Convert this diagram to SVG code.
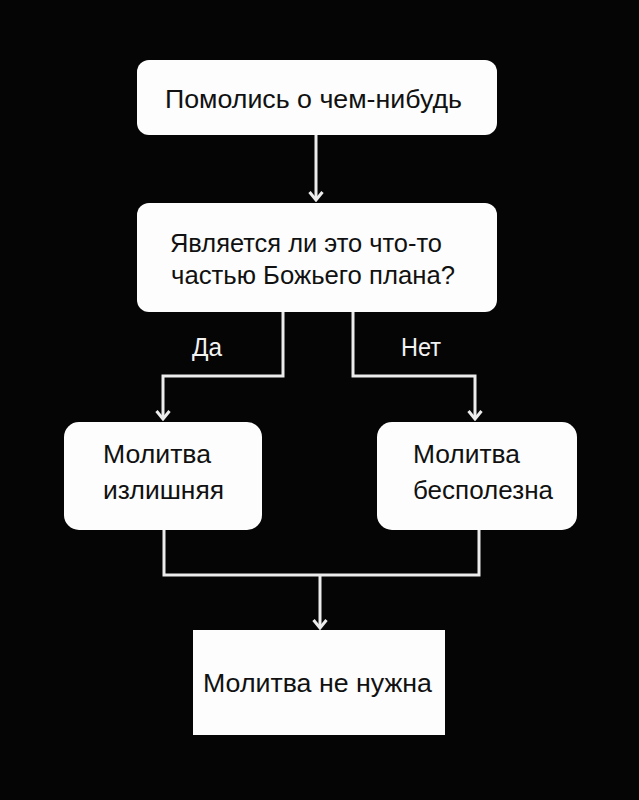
<svg xmlns="http://www.w3.org/2000/svg" width="639" height="800" viewBox="0 0 639 800">
<defs>
<style>
.box{fill:#fdfdfd;}
.t{font-family:"Liberation Sans","DejaVu Sans",sans-serif;font-size:25px;fill:#111;}
.lbl{font-family:"Liberation Sans","DejaVu Sans",sans-serif;font-size:25px;fill:#f2f2f2;}
.c{fill:none;stroke:#ececec;stroke-width:3;}
</style>
<marker id="ah" viewBox="-11 -9 13 18" markerWidth="13" markerHeight="18" refX="0" refY="0" orient="auto" markerUnits="userSpaceOnUse">
<path d="M-8,-6.5 L0,0 L-8,6.5" fill="none" stroke="#ececec" stroke-width="3"/>
</marker>
</defs>
<rect width="639" height="800" fill="#050505"/>
<g id="connectors">
<path class="c" d="M316,135 V200" marker-end="url(#ah)"/>
<path class="c" d="M283,312 V376 H163 V419" marker-end="url(#ah)"/>
<path class="c" d="M353,312 V376 H475 V419" marker-end="url(#ah)"/>
<path class="c" d="M164,530 V575 H479 V530"/>
<path class="c" d="M320,575 V628" marker-end="url(#ah)"/>
<text class="lbl" x="192" y="356" textLength="30" lengthAdjust="spacingAndGlyphs">Да</text>
<text class="lbl" x="401" y="356" textLength="40" lengthAdjust="spacingAndGlyphs">Нет</text>
</g>
<g id="n1">
<rect class="box" x="137" y="60" width="360" height="75" rx="12"/>
<text class="t" x="165" y="108" textLength="297" lengthAdjust="spacingAndGlyphs">Помолись о чем-нибудь</text>
</g>
<g id="n2">
<rect class="box" x="137" y="203" width="360" height="109" rx="12"/>
<text class="t" x="170" y="252" textLength="272" lengthAdjust="spacingAndGlyphs">Является ли это что-то</text>
<text class="t" x="171" y="284" textLength="284" lengthAdjust="spacingAndGlyphs">частью Божьего плана?</text>
</g>
<g id="n3">
<rect class="box" x="64" y="422" width="198" height="108" rx="15"/>
<text class="t" x="103" y="463" textLength="108" lengthAdjust="spacingAndGlyphs">Молитва</text>
<text class="t" x="103" y="499" textLength="121" lengthAdjust="spacingAndGlyphs">излишняя</text>
</g>
<g id="n4">
<rect class="box" x="377" y="422" width="200" height="108" rx="15"/>
<text class="t" x="413" y="463" textLength="107" lengthAdjust="spacingAndGlyphs">Молитва</text>
<text class="t" x="413" y="499" textLength="140" lengthAdjust="spacingAndGlyphs">бесполезна</text>
</g>
<g id="n5">
<rect class="box" x="193" y="630" width="252" height="105"/>
<text class="t" x="203" y="692" textLength="229" lengthAdjust="spacingAndGlyphs">Молитва не нужна</text>
</g>
</svg>
